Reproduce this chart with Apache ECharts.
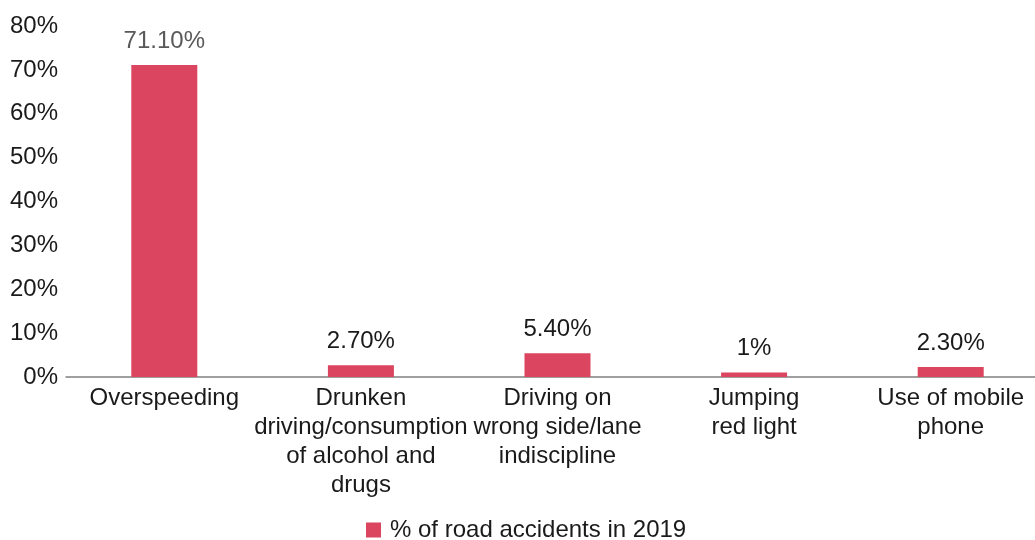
<!DOCTYPE html>
<html>
<head>
<meta charset="utf-8">
<script src="https://cdn.jsdelivr.net/npm/echarts@6/dist/echarts.min.js"></script>
<style>
html,body{margin:0;padding:0;background:#fff;}
#chart{width:1035px;height:540px;}
</style>
</head>
<body>
<div id="chart"></div>
<script>
const categories = [
  "Overspeeding",
  "Drunken\ndriving/consumption\nof alcohol and\ndrugs",
  "Driving on\nwrong side/lane\nindiscipline",
  "Jumping\nred light",
  "Use of mobile\nphone"
];
const values = [71.1, 2.7, 5.4, 1, 2.3];
const valueLabels = ["71.10%", "2.70%", "5.40%", "1%", "2.30%"];
const yTicks = [0, 10, 20, 30, 40, 50, 60, 70, 80];
const seriesName = "% of road accidents in 2019";

const FONT = '"Liberation Sans", Arial, Helvetica, sans-serif';
const chart = echarts.init(document.getElementById('chart'), null, {renderer: 'canvas'});
chart.setOption({
  backgroundColor: '#ffffff',
  animation: false,
  textStyle: {fontFamily: FONT},
  grid: {left: 66, top: 26, width: 983, height: 351, containLabel: false, outerBoundsMode: 'none'},
  legend: {
    data: [seriesName],
    bottom: -7,
    left: 361,
    icon: 'rect',
    itemWidth: 15,
    itemHeight: 15,
    itemGap: 10,
    textStyle: {fontSize: 24, color: '#1a1a1a', fontFamily: FONT, padding: [0, 0, 0, 4]}
  },
  xAxis: {
    type: 'category',
    data: categories,
    axisLine: {lineStyle: {color: '#808080', width: 1.5}},
    axisTick: {show: false},
    axisLabel: {
      interval: 0,
      fontSize: 24,
      lineHeight: 29,
      color: '#1a1a1a',
      fontFamily: FONT,
      margin: 7,
      hideOverlap: false
    }
  },
  yAxis: {
    type: 'value',
    min: yTicks[0],
    max: yTicks[yTicks.length - 1],
    interval: 10,
    axisLine: {show: false},
    axisTick: {show: false},
    splitLine: {show: false},
    axisLabel: {
      formatter: '{value}%',
      fontSize: 24,
      color: '#1a1a1a',
      fontFamily: FONT,
      margin: 8
    }
  },
  series: [{
    name: seriesName,
    type: 'bar',
    barWidth: 66,
    itemStyle: {color: '#DC455F'},
    data: values.map((v, i) => ({
      value: v,
      label: {color: i === 0 ? '#595959' : '#1a1a1a'}
    })),
    label: {
      show: true,
      position: 'top',
      distance: 12,
      fontSize: 24,
      fontFamily: FONT,
      formatter: p => valueLabels[p.dataIndex]
    }
  }]
});
</script>
</body>
</html>
